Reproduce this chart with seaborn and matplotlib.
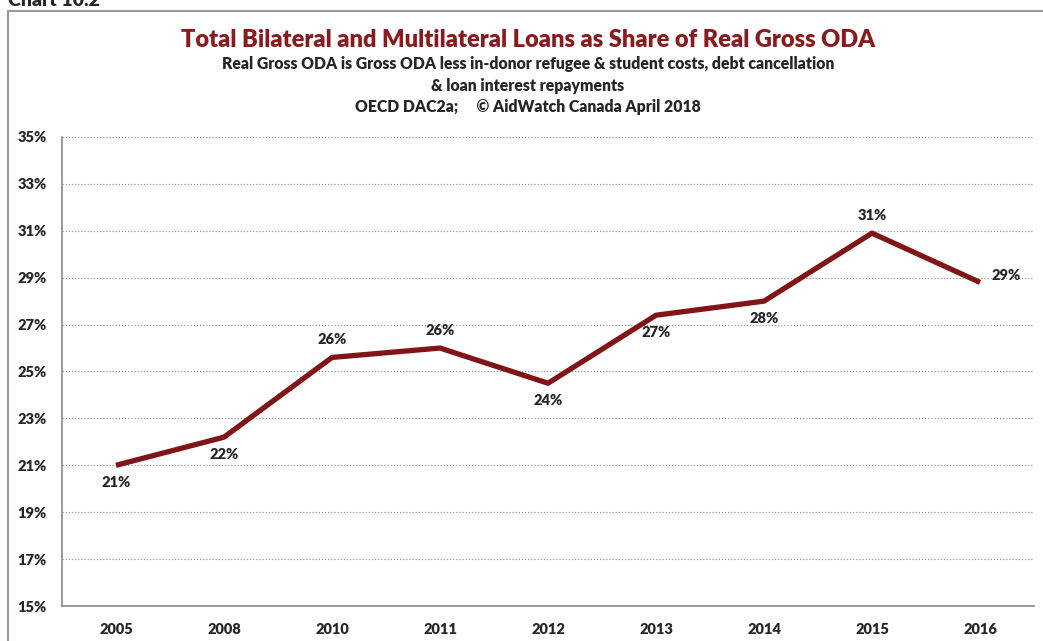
import matplotlib
matplotlib.use('Agg')
import matplotlib.pyplot as plt
import matplotlib.patches as mpatches
from matplotlib.ticker import FixedLocator
import seaborn as sns
import pandas as pd

# data
years = ['2005', '2008', '2010', '2011', '2012', '2013', '2014', '2015', '2016']
loan_share = [21.0, 22.2, 25.6, 26.0, 24.5, 27.4, 28.0, 30.9, 28.8]
point_labels = ['21%', '22%', '26%', '26%', '24%', '27%', '28%', '31%', '29%']
label_side = ['below', 'below', 'above', 'above', 'below', 'below', 'below', 'above', 'right']
y_ticks = [15, 17, 19, 21, 23, 25, 27, 29, 31, 33, 35]

df = pd.DataFrame({'year': years, 'share': loan_share})

sns.set_style('white')
plt.rcParams['font.family'] = ['Lato', 'DejaVu Sans']

line_col = '#801416'
title_col = '#8b1a1e'
wt = 'heavy'

fig = plt.figure(figsize=(10.43, 6.41), dpi=100)
ax = fig.add_axes([62 / 1043, 1 - 606 / 641, (1034 - 62) / 1043, (606 - 137) / 641])

sns.lineplot(data=df, x='year', y='share', ax=ax, color=line_col, linewidth=3.8,
             sort=False, solid_capstyle='butt')

ax.set_xlim(-0.5, len(years) - 0.5)
ax.set_ylim(15, 35)
ax.set_yticks(y_ticks)
ax.set_yticklabels([f'{t}%' for t in y_ticks], fontsize=10.5, fontweight=wt)
ax.set_xticks(range(len(years)))
ax.set_xticklabels(years, fontsize=10.5, fontweight=wt)
ax.tick_params(axis='x', length=0, pad=12)
ax.xaxis.set_minor_locator(FixedLocator([i - 0.5 for i in range(len(years) + 1)]))
ax.tick_params(axis='x', which='minor', length=5, color='#888888', direction='out')
ax.tick_params(axis='y', length=5, color='#888888', direction='out', pad=6)
ax.set_xlabel('')
ax.set_ylabel('')

for t in y_ticks[1:]:
    ax.axhline(t, color='#999999', linestyle=(0, (1, 1.5)), linewidth=0.9, zorder=0)

for s in ['top', 'right']:
    ax.spines[s].set_visible(False)
for s in ['left', 'bottom']:
    ax.spines[s].set_color('#888888')
    ax.spines[s].set_linewidth(1.2)

for i, (v, lab, side) in enumerate(zip(loan_share, point_labels, label_side)):
    if side == 'above':
        ax.annotate(lab, (i, v), xytext=(0, 8), textcoords='offset points',
                    ha='center', va='bottom', fontsize=10.5, fontweight=wt)
    elif side == 'below':
        ax.annotate(lab, (i, v), xytext=(0, -8), textcoords='offset points',
                    ha='center', va='top', fontsize=10.5, fontweight=wt)
    else:
        ax.annotate(lab, (i, v), xytext=(8, 0), textcoords='offset points',
                    ha='left', va='bottom', fontsize=10.5, fontweight=wt)

# outer frame and titles
frame = mpatches.Rectangle((8 / 1043, -0.05), 1.1, 1 - 11 / 641 + 0.05,
                           transform=fig.transFigure, fill=False,
                           edgecolor='#999999', linewidth=1.5, clip_on=False)
fig.patches.append(frame)
fig.text(8 / 1043, 1 - 6 / 641, 'Chart 10.2', fontsize=14, fontweight=wt,
         va='baseline', ha='left')

fig.text(528 / 1043, 1 - 40 / 641, 'Total Bilateral and Multilateral Loans as Share of Real Gross ODA',
         color=title_col, fontsize=17, fontweight=wt, ha='center', va='center')
fig.text(528 / 1043, 1 - 64 / 641,
         'Real Gross ODA is Gross ODA less in-donor refugee & student costs, debt cancellation',
         fontsize=11.3, fontweight=wt, ha='center', va='center')
fig.text(528 / 1043, 1 - 86 / 641, '& loan interest repayments',
         fontsize=11.3, fontweight=wt, ha='center', va='center')
fig.text(528 / 1043, 1 - 107 / 641, 'OECD DAC2a;     \u00a9 AidWatch Canada April 2018',
         fontsize=11.3, fontweight=wt, ha='center', va='center')

fig.savefig('out.png', dpi=100)
